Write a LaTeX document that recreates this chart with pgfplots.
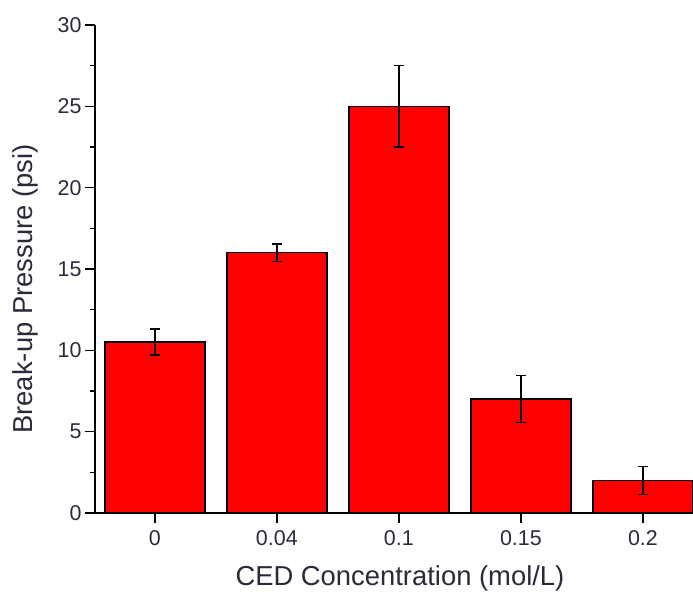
\documentclass[border=0pt]{standalone}
\usepackage{pgfplots}
\pgfplotsset{compat=1.18}
\usepackage{fontspec}
\setmainfont{Liberation Sans}
\definecolor{txt}{HTML}{2A2A3A}
\begin{document}
\begin{tikzpicture}
\begin{axis}[
  width=598bp, height=488bp, scale only axis,
  xmin=-0.49, xmax=4.41, ymin=0, ymax=30,
  axis lines*=left,
  axis line style={black, line width=1.5bp},
  tick align=outside,
  major tick length=10bp, minor tick length=5bp,
  tick style={black, line width=1.5bp},
  ytick={0,5,...,30}, minor y tick num=1,
  xtick={0,1,2,3,4}, xticklabels={0,0.04,0.1,0.15,0.2},
  /pgf/number format/assume math mode=true,
  ticklabel style={font=\fontsize{21.5}{25}\selectfont, text=txt},
  x tick label style={yshift=-4bp},
  xlabel={CED Concentration (mol/L)},
  ylabel={Break-up Pressure (psi)},
  label style={font=\fontsize{27.5}{32}\selectfont, text=txt},
  x label style={at={(axis description cs:0.51,0)}, anchor=center, yshift=-65bp},
  y label style={at={([xshift=-70bp]axis description cs:0,0.459)}, anchor=center},
  ybar, bar width=100bp,
]
\addplot[fill=red, draw=black, line width=1.5bp,
  error bars/.cd, y dir=both, y explicit,
  error bar style={black, line width=1.5bp},
  error mark options={rotate=90, mark size=5bp, line width=1.5bp, black}]
  coordinates {
  (0,10.5) +- (0,0.8)
  (1,16.0) +- (0,0.55)
  (2,25.0) +- (0,2.5)
  (3,7.0) +- (0,1.45)
  (4,2.0) +- (0,0.85)
};
\end{axis}
\pgfresetboundingbox
\path[use as bounding box] (-95bp,-81bp) rectangle (598bp,513bp);
\end{tikzpicture}
\end{document}
